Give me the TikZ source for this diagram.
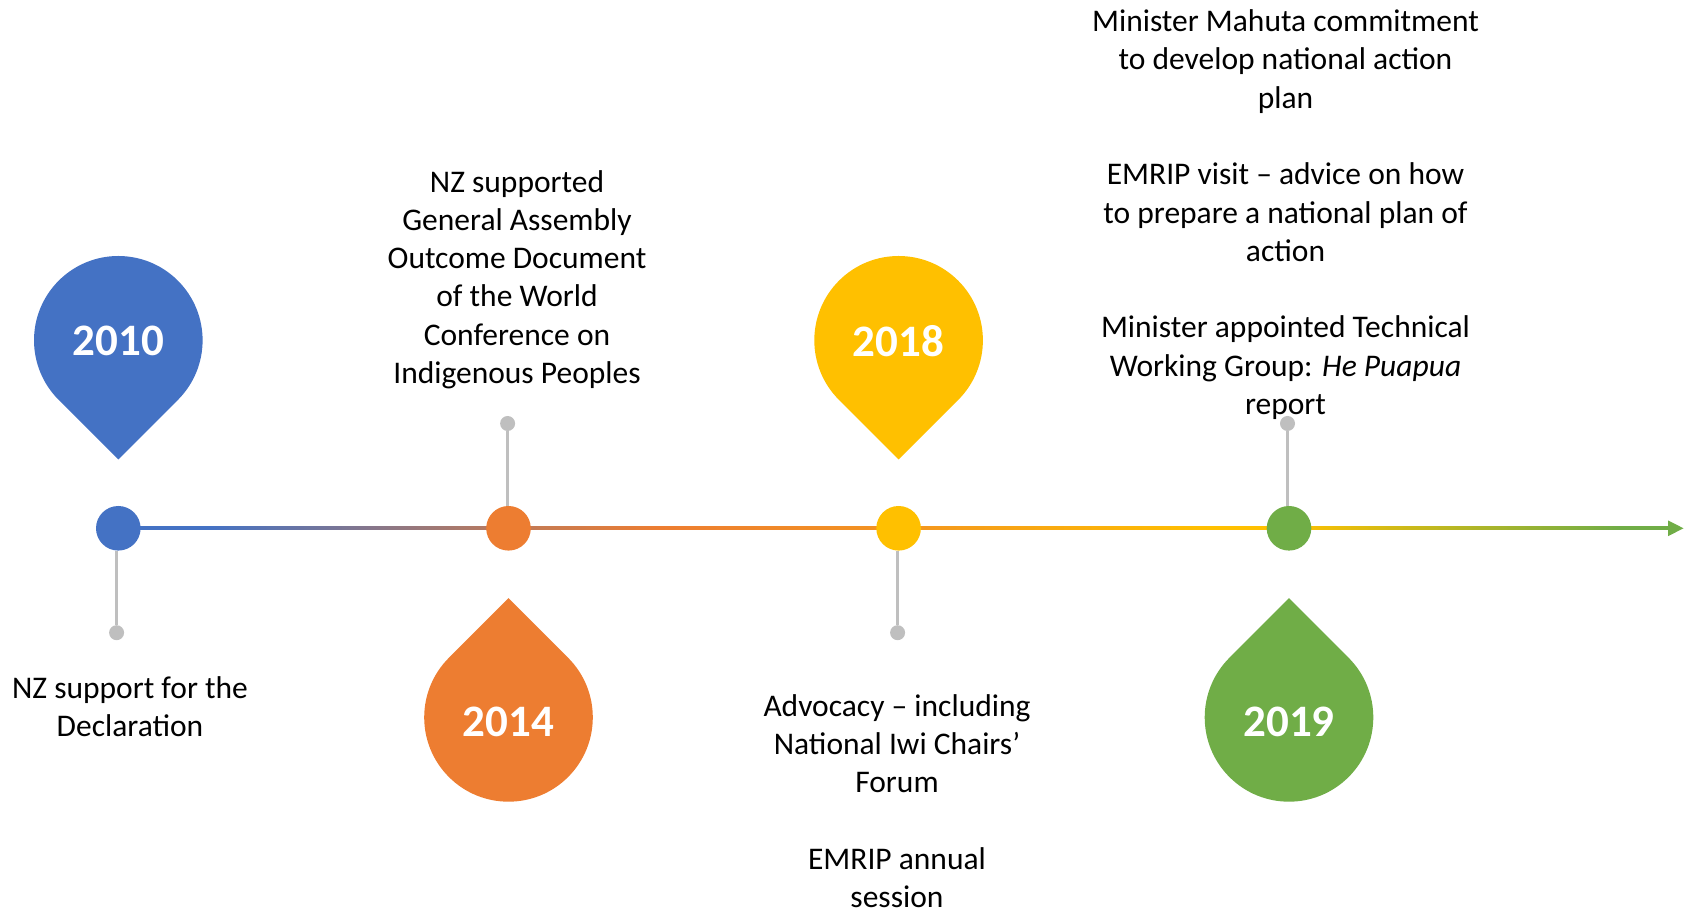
\documentclass[tikz,border=0pt]{standalone}
\usepackage{fontspec}
\setmainfont{Carlito}
\usetikzlibrary{calc}
\definecolor{cblue}{HTML}{4472C4}
\definecolor{corange}{HTML}{ED7D31}
\definecolor{cyellow}{HTML}{FFC000}
\definecolor{cgreen}{HTML}{70AD47}
\definecolor{cgrey}{HTML}{BFBFBF}
\colorlet{cmixA}{corange!72!cblue}
\colorlet{cmixB}{corange!65!cyellow}
\pgfdeclarehorizontalshading{tline}{100bp}{color(0bp)=(cblue); color(27.97bp)=(cblue);
  color(37.57bp)=(cmixA); color(42.47bp)=(corange); color(50.15bp)=(cmixB);
  color(60.2bp)=(cyellow); color(62.75bp)=(cyellow); color(73.42bp)=(cgreen);
  color(100bp)=(cgreen)}
\newcommand\droppin[3]{% center, colour, tip direction
  \fill[#2] ($(#1)+(#3:119.2)$) -- ($(#1)+({#3+45}:84.3)$)
    arc[start angle={#3+45}, end angle={#3+315}, radius=84.3] -- cycle;}
\begin{document}
\begin{tikzpicture}[x=1pt,y=1pt,
  body/.style={anchor=base, inner sep=0pt, text=black,
    font=\fontsize{31.5}{38.3}\selectfont},
  year/.style={inner sep=0pt, text=white,
    font=\fontsize{45}{54}\selectfont\bfseries},
  stem/.style={draw=cgrey, line width=3pt},
  gdot/.style={circle, fill=cgrey, minimum size=15pt, inner sep=0pt},
  tdot/.style={circle, minimum size=44.6pt, inner sep=0pt}]
\useasboundingbox (0,0) rectangle (1690,910);

% timeline (gradient)
\shade[shading=tline] (118,380.3) rectangle (1669,383.1);
\coordinate (tip) at (1683.5,381.7);
\fill[cgreen] (tip) -- (1668,389.6) -- (1668,373.8) -- cycle;

% timeline points
\node[tdot, fill=cblue]   (c10) at (118.3,381.7) {};
\node[tdot, fill=corange] (c14) at (508.5,381.7) {};
\node[tdot, fill=cyellow] (c18) at (898.6,381.7) {};
\node[tdot, fill=cgreen]  (c19) at (1289,381.7) {};

% grey stems and end dots
\node[gdot] (d10) at (116.6,277.3) {};
\node[gdot] (d14) at (507.6,486.5) {};
\node[gdot] (d18) at (897.6,277.3) {};
\node[gdot] (d19) at (1287.5,486.5) {};
\draw[stem] (c10.south -| d10) -- (d10);
\draw[stem] (c14.north -| d14) -- (d14);
\draw[stem] (c18.south -| d18) -- (d18);
\draw[stem] (c19.north -| d19) -- (d19);

% pins
\coordinate (p10) at (118.3,569.7);
\coordinate (p14) at (508.5,192.6);
\coordinate (p18) at (898.6,569.7);
\coordinate (p19) at (1289,192.6);
\droppin{p10}{cblue}{-90}
\droppin{p14}{corange}{90}
\droppin{p18}{cyellow}{-90}
\droppin{p19}{cgreen}{90}
\node[year] (y10) at ($(p10)+(0,-1)$) {2010};
\node[year] (y14) at ($(p14)+(0,-4.3)$) {2014};
\node[year] (y18) at ($(p18)+(0,-1)$) {2018};
\node[year] (y19) at ($(p19)+(0,-4.3)$) {2019};

% texts
\node[body] (t10) at (130,211.4) {\begin{tabular}[t]{@{}c@{}}
NZ support for the\\Declaration\end{tabular}};
\node[body] (t14) at (517,717.9) {\begin{tabular}[t]{@{}c@{}}
NZ supported\\General Assembly\\Outcome Document\\of the World\\Conference on\\Indigenous Peoples\end{tabular}};
\node[body] (t18) at (897,193.9) {\begin{tabular}[t]{@{}c@{}}
Advocacy – including\\National Iwi Chairs’\\Forum\\ \\EMRIP annual\\session\end{tabular}};
\node[body] (t19) at (1285.5,878.4) {\begin{tabular}[t]{@{}c@{}}
Minister Mahuta commitment\\to develop national action\\plan\\ \\EMRIP visit – advice on how\\to prepare a national plan of\\action\\ \\Minister appointed Technical\\Working Group: \textit{He Puapua}\\report\end{tabular}};
\end{tikzpicture}
\end{document}
